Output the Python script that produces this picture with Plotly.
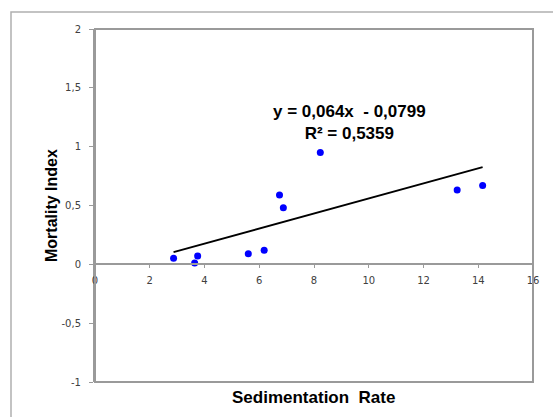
import plotly.graph_objects as go

# ---- data ----
sedimentation_rate = [2.87, 3.64, 3.75, 5.60, 6.18, 6.74, 6.88, 8.23, 13.23, 14.16]
mortality_index = [0.051, 0.011, 0.070, 0.090, 0.120, 0.590, 0.480, 0.950, 0.631, 0.671]
trend_slope = 0.064
trend_intercept = -0.0799
r_squared = 0.5359
x_ticks = [0, 2, 4, 6, 8, 10, 12, 14, 16]
y_ticks = [-1, -0.5, 0, 0.5, 1, 1.5, 2]
y_tick_labels = ["-1", "-0,5", "0", "0,5", "1", "1,5", "2"]

W, H = 553, 417
L, R, T, B = 95, 20, 29, 35
pw, ph = W - L - R, H - T - B

x_lo, x_hi = min(sedimentation_rate), max(sedimentation_rate)
trend_x = [x_lo, x_hi]
trend_y = [trend_slope * v + trend_intercept for v in trend_x]

fig = go.Figure()
fig.add_trace(go.Scatter(x=sedimentation_rate, y=mortality_index, mode="markers",
                         marker=dict(color="#0000FF", size=7, line=dict(width=0)),
                         showlegend=False, cliponaxis=False))
fig.add_trace(go.Scatter(x=trend_x, y=trend_y, mode="lines",
                         line=dict(color="black", width=2), showlegend=False))

grey = "#9a9a9a"
tickfont = dict(family="DejaVu Sans", size=10, color="#404040")

fig.update_layout(
    width=W, height=H,
    margin=dict(l=L, r=R, t=T, b=B),
    plot_bgcolor="white", paper_bgcolor="white",
    separators=", ",
    xaxis=dict(range=[0, 16], tickvals=x_ticks, ticktext=[str(v) for v in x_ticks],
               anchor="free", position=1/3, showline=True, linecolor=grey, linewidth=2,
               ticks="outside", ticklen=3, tickcolor=grey, tickwidth=1,
               showgrid=False, zeroline=False, tickfont=tickfont, ticklabelstandoff=4),
    yaxis=dict(range=[-1, 2], tickvals=y_ticks, ticktext=y_tick_labels,
               showline=True, linecolor=grey, linewidth=2,
               ticks="outside", ticklen=4, tickcolor=grey, tickwidth=1,
               showgrid=False, zeroline=False, tickfont=tickfont, ticklabelstandoff=6),
    shapes=[
        dict(type="rect", xref="paper", yref="paper", x0=0, x1=1, y0=0, y1=1,
             line=dict(color=grey, width=2), layer="above"),
        dict(type="rect", xref="paper", yref="paper",
             x0=(11 - L) / pw, x1=1.2, y0=-0.3, y1=(H - B - 12) / ph,
             line=dict(color="#b0b0b0", width=1.5)),
    ],
)

fmt = lambda v: f"{v:g}".replace(".", ",")
eq_text = (f"y = {fmt(trend_slope)}x  - {fmt(abs(trend_intercept))}<br>"
           f"R² = {fmt(r_squared)}")

fig.add_annotation(text=eq_text, xref="paper", yref="paper",
                   x=(349 - L) / pw, y=(H - B - 122) / ph, xanchor="center", yanchor="middle",
                   showarrow=False, align="center",
                   font=dict(family="Liberation Sans", size=17, color="black", weight="bold"))
fig.add_annotation(text="Sedimentation  Rate", xref="paper", yref="paper",
                   x=(313 - L) / pw, y=(H - B - 398) / ph, xanchor="center", yanchor="middle",
                   showarrow=False,
                   font=dict(family="Liberation Sans", size=17, color="black", weight="bold"))
fig.add_annotation(text="Mortality Index", xref="paper", yref="paper",
                   x=(51 - L) / pw, y=(H - B - 206) / ph, xanchor="center", yanchor="middle",
                   showarrow=False, textangle=-90,
                   font=dict(family="Liberation Sans", size=16, color="black", weight="bold"))

fig.write_html("out.html")
